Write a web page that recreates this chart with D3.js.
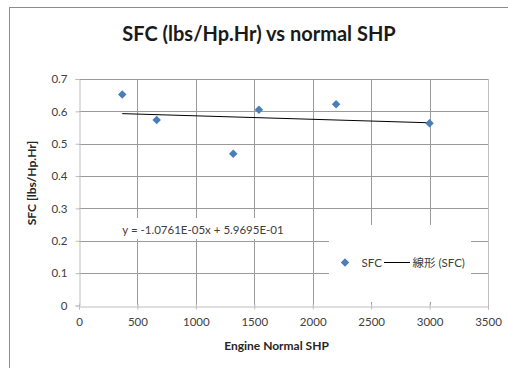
<!DOCTYPE html>
<html>
<head>
<meta charset="utf-8">
<script src="https://cdn.jsdelivr.net/npm/d3@7"></script>
<style>
  html, body { margin: 0; padding: 0; background: #fff; }
  svg { display: block; font-family: Lato, "Noto Sans", sans-serif; }
</style>
</head>
<body>
<script>
// Engine normal shaft horsepower and measured specific fuel consumption
const shp = [370, 665, 1320, 1540, 2200, 3000];
const sfc = [0.652, 0.573, 0.469, 0.605, 0.622, 0.563];

// Linear trendline coefficients (y = slope * x + intercept)
const slope = -1.0761e-05;
const intercept = 5.9695e-01;

const xTicks = [0, 500, 1000, 1500, 2000, 2500, 3000, 3500];
const yTicks = [0, 0.1, 0.2, 0.3, 0.4, 0.5, 0.6, 0.7];

const title = "SFC (lbs/Hp.Hr) vs normal SHP";
const xTitle = "Engine Normal SHP";
const yTitle = "SFC [lbs/Hp.Hr]";
const seriesName = "SFC";
const trendName = "線形 (SFC)";

const W = 508, H = 368;
const svg = d3.select("body").append("svg").attr("width", W).attr("height", H);

// Chart frame
svg.append("rect")
  .attr("x", 9.5).attr("y", 7.5).attr("width", 620).attr("height", 420)
  .attr("fill", "#fff").attr("stroke", "#8c8c8c").attr("stroke-width", 1);

const x = d3.scaleLinear().domain([0, 3500]).range([79, 488]);
const y = d3.scaleLinear().domain([0, 0.7]).range([305.5, 79]);

const textColor = "#404040";

// Gridlines
const grid = svg.append("g");
grid.selectAll("line.h").data(yTicks.slice(1)).join("line")
  .attr("x1", x(0)).attr("x2", x(3500))
  .attr("y1", d => Math.round(y(d)) + 0.5).attr("y2", d => Math.round(y(d)) + 0.5)
  .attr("stroke", "#9a9a9a");
grid.selectAll("line.v").data(xTicks.slice(1, -1)).join("line")
  .attr("y1", y(0.7)).attr("y2", y(0))
  .attr("x1", d => Math.round(x(d)) + 0.5).attr("x2", d => Math.round(x(d)) + 0.5)
  .attr("stroke", "#9a9a9a");
grid.append("line")
  .attr("y1", y(0.7)).attr("y2", y(0))
  .attr("x1", Math.round(x(3500)) + 0.5).attr("x2", Math.round(x(3500)) + 0.5)
  .attr("stroke", "#c0c0c0");

// Axes
const xAxis = svg.append("g")
  .attr("transform", `translate(0,${Math.round(y(0)) + 0.5})`)
  .call(d3.axisBottom(x).tickValues(xTicks).tickSize(3).tickPadding(8).tickFormat(d3.format("d")));
xAxis.selectAll(".tick line").attr("y1", -3).attr("y2", 3);

const yAxis = svg.append("g")
  .attr("transform", `translate(${Math.round(x(0)) + 0.5},0)`)
  .call(d3.axisLeft(y).tickValues(yTicks).tickSize(4).tickPadding(8).tickFormat(d => d === 0 ? "0" : d3.format(".1f")(d)));

[xAxis, yAxis].forEach(a => {
  a.select(".domain").attr("stroke", "#bdbdbd");
  a.selectAll(".tick line").attr("stroke", "#bdbdbd");
  a.selectAll(".tick text").attr("fill", textColor).attr("font-size", 11.5)
    .attr("font-family", "Lato, 'Noto Sans', sans-serif");
});

// Trendline across the data range
const xMin = d3.min(shp), xMax = d3.max(shp);
svg.append("line")
  .attr("x1", x(xMin)).attr("y1", y(slope * xMin + intercept))
  .attr("x2", x(xMax)).attr("y2", y(slope * xMax + intercept))
  .attr("stroke", "#000").attr("stroke-width", 1);

// Data markers
const diamond = d3.symbol().type(d3.symbolDiamond2).size(46);
svg.append("g").selectAll("path").data(shp).join("path")
  .attr("transform", (d, i) => `translate(${x(d)},${y(sfc[i])})`)
  .attr("d", diamond)
  .attr("fill", "#4a7ebb");

// Trendline equation label
const fmtE = v => v.toExponential(4).replace(/e([+-])(\d)$/, "E$10$2").toUpperCase();
const eq = `y = ${fmtE(slope)}x + ${fmtE(intercept)}`;
const eqG = svg.append("g");
eqG.append("rect").attr("x", 112).attr("y", 218).attr("width", 184).attr("height", 21).attr("fill", "#fff");
eqG.append("text").attr("x", 203).attr("y", 233.5).attr("text-anchor", "middle")
  .attr("fill", textColor).attr("font-size", 11.5).text(eq);

// Legend
const lg = svg.append("g");
lg.append("rect").attr("x", 329).attr("y", 225).attr("width", 142).attr("height", 77).attr("fill", "#fff");
lg.append("path").attr("d", diamond).attr("transform", "translate(345,262.5)").attr("fill", "#4a7ebb");
lg.append("text").attr("x", 361.5).attr("y", 266.5).attr("fill", textColor).attr("font-size", 11.5).text(seriesName);
lg.append("line").attr("x1", 384).attr("x2", 410).attr("y1", 262.5).attr("y2", 262.5).attr("stroke", "#000");
lg.append("text").attr("x", 412.5).attr("y", 266.5).attr("fill", textColor).attr("font-size", 11.5)
  .attr("font-family", "Lato, 'Noto Sans CJK JP', sans-serif").text(trendName);

// Titles
svg.append("text").attr("x", 259).attr("y", 40.5).attr("text-anchor", "middle")
  .attr("font-size", 20).attr("font-weight", "bold").attr("fill", "#1a1a1a").text(title);
svg.append("text").attr("x", 276.5).attr("y", 350).attr("text-anchor", "middle")
  .attr("font-size", 12).attr("font-weight", "bold").attr("fill", "#262626").text(xTitle);
svg.append("text").attr("transform", "translate(36,183) rotate(-90)").attr("text-anchor", "middle")
  .attr("font-size", 12).attr("font-weight", "bold").attr("fill", "#262626").text(yTitle);
</script>
</body>
</html>
